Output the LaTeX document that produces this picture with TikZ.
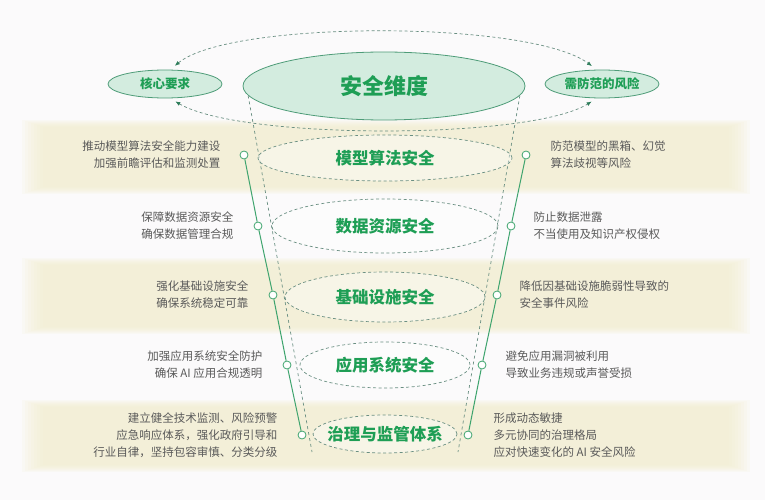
\documentclass[tikz,border=0pt]{standalone}
\usepackage{fontspec}
\setmainfont{Noto Sans CJK SC}
\usetikzlibrary{shapes.geometric,arrows.meta}
\definecolor{gtext}{HTML}{1E9E55}
\definecolor{topc}{HTML}{D3ECDF}
\definecolor{edgec}{HTML}{4E9C78}
\definecolor{dashc}{HTML}{6A8F82}
\definecolor{tipc}{HTML}{2E7D5B}
\definecolor{spinec}{HTML}{3FA46E}
\definecolor{sidec}{HTML}{5A5A5A}
\definecolor{bandc}{HTML}{F3EED0}
\definecolor{bgc}{HTML}{FBFAFB}

\begin{document}
\begin{tikzpicture}[x=1pt, y=-1pt,
      every node/.style={font=\fontsize{11.5}{17}\selectfont},
      dim/.style={ellipse, draw=edgec, line width=0.8pt, fill=topc, inner sep=0pt},
      layer/.style={ellipse, draw=dashc, line width=0.7pt, dash pattern=on 3pt off 2.5pt,
                    fill=white, fill opacity=0.4, inner sep=0pt},
      ltext/.style={text=gtext, font=\fontsize{16.5}{18}\bfseries\selectfont},
      dot/.style={circle, draw=spinec, fill=white, line width=0.8pt, minimum size=8pt, inner sep=0pt},
      spine/.style={draw=spinec, line width=1pt},
      lside/.style={text=sidec, align=right, anchor=east, inner sep=0pt},
      rside/.style={text=sidec, align=left, anchor=west, inner sep=0pt},
      funnel/.style={draw=dashc, line width=0.7pt, dash pattern=on 3pt off 3pt},
      link/.style={draw=dashc, line width=0.7pt, dash pattern=on 3pt off 2.5pt,
                   {Latex[length=5pt,width=4pt,color=tipc]}-{Latex[length=5pt,width=4pt,color=tipc]},
                   shorten <=6pt, shorten >=6pt}]
    \fill[bgc] (0,0) rectangle (765,500);
    \useasboundingbox (0,0) rectangle (765,500);
    \foreach \ya/\yb in {120/194, 258/334, 400/472}
      \foreach \d in {0,3,...,21}
        \fill[bandc, opacity=0.16] (22+\d,\ya+\d/3) rectangle (750-\d,\yb-\d/3);

    \node[dim, minimum width=282pt, minimum height=68pt,
          font=\fontsize{22}{24}\bfseries\selectfont, text=gtext] (dim) at (384,86) {安全维度};
    \node[dim, minimum width=114pt, minimum height=28pt,
          font=\fontsize{12.5}{14}\bfseries\selectfont, text=gtext] (req) at (165,84) {核心要求};
    \node[dim, minimum width=114pt, minimum height=28pt,
          font=\fontsize{12.5}{14}\bfseries\selectfont, text=gtext] (risk) at (602,84) {需防范的风险};

    \draw[link] (req.70) .. controls (230,20) and (530,20) .. (risk.110);
    \draw[link] (req.-70) .. controls (240,140) and (530,140) .. (risk.-110);

    \coordinate (fl) at (312,452);
    \coordinate (fr) at (458,452);
    \draw[funnel] (dim.184) -- (fl);
    \draw[funnel] (dim.-4) -- (fr);

    \node[layer, minimum width=254pt, minimum height=46pt] (mdl) at (385,158) {};
    \node[layer, minimum width=226pt, minimum height=54pt] (dat) at (385,226) {};
    \node[layer, minimum width=200pt, minimum height=50pt] (inf) at (385,297) {};
    \node[layer, minimum width=170pt, minimum height=46pt] (app) at (385,365) {};
    \node[layer, minimum width=144pt, minimum height=38pt] (gov) at (385,434) {};
    \node[ltext] (tmdl) at (mdl) {模型算法安全};
    \node[ltext] (tdat) at (dat) {数据资源安全};
    \node[ltext] (tinf) at (inf) {基础设施安全};
    \node[ltext] (tapp) at (app) {应用系统安全};
    \node[ltext] (tgov) at (gov) {治理与监管体系};

    \foreach \i/\x/\y in {1/244/155, 2/258/226, 3/273/295, 4/287/365, 5/302/435}
      \node[dot] (l\i) at (\x,\y) {};
    \foreach \i/\x/\y in {1/526/155, 2/511/226, 3/497/295, 4/482/365, 5/468/435}
      \node[dot] (r\i) at (\x,\y) {};
    \draw[spine] (l1) -- (l2) -- (l3) -- (l4) -- (l5);
    \draw[spine] (r1) -- (r2) -- (r3) -- (r4) -- (r5);

    \node[lside] (tl1) at ([xshift=-19pt]l1.west) {推动模型算法安全能力建设\\加强前瞻评估和监测处置};
    \node[lside] (tl2) at ([xshift=-20pt]l2.west) {保障数据资源安全\\确保数据管理合规};
    \node[lside] (tl3) at ([xshift=-20pt]l3.west) {强化基础设施安全\\确保系统稳定可靠};
    \node[lside] (tl4) at ([xshift=-20pt]l4.west) {加强应用系统安全防护\\确保 AI 应用合规透明};
    \node[lside] (tl5) at ([xshift=-20pt]l5.west) {建立健全技术监测、风险预警\\应急响应体系，强化政府引导和\\行业自律，坚持包容审慎、分类分级};
    \node[rside] (tr1) at ([xshift=20pt]r1.east) {防范模型的黑箱、幻觉\\算法歧视等风险};
    \node[rside] (tr2) at ([xshift=18pt]r2.east) {防止数据泄露\\不当使用及知识产权侵权};
    \node[rside] (tr3) at ([xshift=18pt]r3.east) {降低因基础设施脆弱性导致的\\安全事件风险};
    \node[rside] (tr4) at ([xshift=19pt]r4.east) {避免应用漏洞被利用\\导致业务违规或声誉受损};
    \node[rside] (tr5) at ([xshift=21pt]r5.east) {形成动态敏捷\\多元协同的治理格局\\应对快速变化的 AI 安全风险};
  \end{tikzpicture}
\end{document}
